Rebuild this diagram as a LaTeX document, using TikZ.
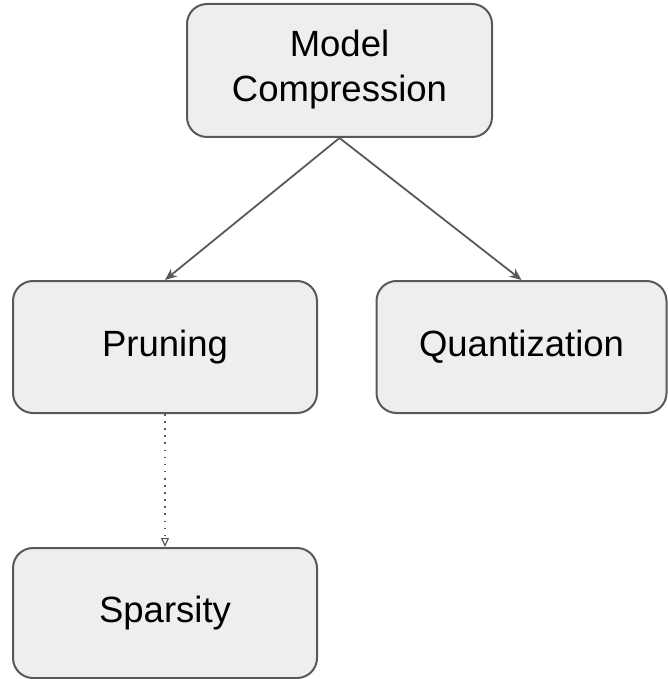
\documentclass[tikz,border=0pt]{standalone}
\usepackage{fontspec}
\setmainfont{Liberation Sans}
\usetikzlibrary{arrows.meta}
\definecolor{boxfill}{HTML}{EEEEEE}
\definecolor{boxline}{HTML}{595959}
\begin{document}
\begin{tikzpicture}[x=1pt,y=-1pt,
  box/.style={draw=boxline, fill=boxfill, line width=2pt, rounded corners=20pt,
    align=center, inner sep=0pt, font=\fontsize{36.5}{45}\selectfont},
  conn/.style={draw=boxline, line width=1.8pt, -{Stealth[length=12pt,width=10pt]}},
  dotconn/.style={draw=boxline, line width=1.6pt, dash pattern=on 1.6pt off 5.5pt,
    -{Triangle[open,length=9pt,width=8pt,line width=1.2pt]}}]
\useasboundingbox (0,0) rectangle (668,679);
\node[box, minimum width=305pt, minimum height=133pt] (mc) at (339.5,70.5) {\raisebox{-3pt}{\begin{tabular}{@{}c@{}}Model\\[0pt]Compression\end{tabular}}};
\node[box, minimum width=304pt, minimum height=132pt] (pr) at (165,347) {Pruning};
\node[box, minimum width=290pt, minimum height=132pt] (qu) at (521.5,347) {Quantization};
\node[box, minimum width=304pt, minimum height=130pt] (sp) at (165,613) {Sparsity};
\draw[conn] (mc.south) -- (pr.north);
\draw[conn] (mc.south) -- (qu.north);
\draw[dotconn] (pr.south) -- (sp.north);
\end{tikzpicture}
\end{document}
